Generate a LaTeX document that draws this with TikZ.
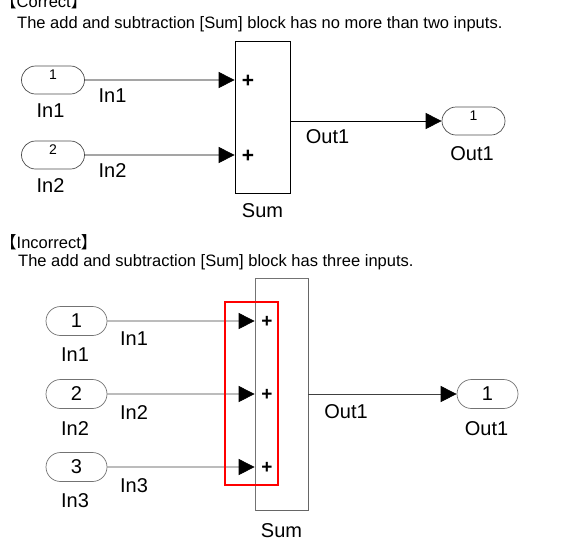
\documentclass[tikz,border=0pt]{standalone}
\usepackage{fontspec}
\setmainfont{Liberation Sans}
\newfontfamily\cjk{Noto Sans CJK JP}
\usetikzlibrary{shapes,arrows.meta,positioning}

\tikzset{
  port/.style={rounded rectangle, draw=black!70, line width=0.7pt, minimum width=65pt, minimum height=28pt, inner sep=1pt},
  portA/.style={port, font=\fontsize{14}{14}\selectfont, text depth=10pt},
  portB/.style={port, draw=black!55, minimum width=63pt, minimum height=29pt, font=\fontsize{20}{20}\selectfont},
  lbl/.style={anchor=base, inner sep=0pt, font=\fontsize{20}{20}\selectfont},
  note/.style={anchor=base west, inner sep=0pt, font=\fontsize{16.5}{18}\selectfont},
  sumblk/.style={draw, line width=0.7pt, inner sep=0pt},
  sig/.style={line width=0.7pt, -{Triangle[length=16pt,width=16pt,black]}},
  plus/.style={inner sep=0pt, font=\fontsize{21}{21}\selectfont\bfseries},
  plusB/.style={plus, font=\fontsize{19}{19}\selectfont\bfseries},
}

\begin{document}
\begin{tikzpicture}[x=1pt, y=-1pt]
    \useasboundingbox (0,0) rectangle (577,544);
    % Correct case
    \node[note] (head1) at (0,7.5) {{\cjk 【}Correct{\cjk 】}};
    \node[note] (txt1) at (17,28) {The add and subtraction [Sum] block has no more than two inputs.};
    \node[sumblk, minimum width=55pt, minimum height=152pt] (sumA) at (262.5,117) {};
    \draw[line width=1.4pt] ([yshift=-1pt]sumA.north east) -- (sumA.south east) -- ([xshift=1pt]sumA.south west);
    \node[portA] (in1) at (53,80) {1};
    \node[portA] (in2) at (53,155) {2};
    \node[portA] (outA) at (473.5,121) {1};
    \draw[sig] (in1) -- (in1 -| sumA.west);
    \draw[sig] (in2) -- (in2 -| sumA.west);
    \draw[sig] (sumA.east |- outA) -- (outA);
    \node[plus] (pa1) at (248,81) {+};
    \node[plus] (pa2) at (248,156) {+};
    \node[lbl] (in1lbl) at (50.5,117) {In1};
    \node[lbl] (in1sig) at (112.5,102) {In1};
    \node[lbl] (in2lbl) at (50.5,192) {In2};
    \node[lbl] (in2sig) at (112.5,177) {In2};
    \node[lbl] (sumAlbl) at (262.5,217) {Sum};
    \node[lbl] (outAlbl) at (472,160) {Out1};
    \node[lbl] (outAsig) at (327.5,143) {Out1};
    % Incorrect case
    \node[note] (head2) at (0,248) {{\cjk 【}Incorrect{\cjk 】}};
    \node[note] (txt2) at (18,266.5) {The add and subtraction [Sum] block has three inputs.};
    \node[sumblk, draw=black!55, minimum width=53pt, minimum height=232pt] (sumB) at (281.5,394) {};
    \draw[line width=1.2pt, black!60] ([yshift=-1pt]sumB.north east) -- (sumB.south east) -- ([xshift=1pt]sumB.south west);
    \node[portB] (inb1) at (76.5,321) {1};
    \node[portB] (inb2) at (76.5,394) {2};
    \node[portB] (inb3) at (76.5,467) {3};
    \node[portB] (outB) at (487.5,394) {1};
    \draw[sig, black!75] (inb1) -- (inb1 -| sumB.west);
    \draw[sig, black!75] (inb2) -- (inb2 -| sumB.west);
    \draw[sig, black!75] (inb3) -- (inb3 -| sumB.west);
    \draw[sig, black!75] (sumB.east |- outB) -- (outB);
    \node[plusB] (pb1) at (267,322) {+};
    \node[plusB] (pb2) at (267,395) {+};
    \node[plusB] (pb3) at (267,468) {+};
    \node[lbl] (inb1lbl) at (75,361.5) {In1};
    \node[lbl] (inb1sig) at (134,345) {In1};
    \node[lbl] (inb2lbl) at (75,435) {In2};
    \node[lbl] (inb2sig) at (134,419) {In2};
    \node[lbl] (inb3lbl) at (75,507) {In3};
    \node[lbl] (inb3sig) at (134,492) {In3};
    \node[lbl] (sumBlbl) at (281.5,537) {Sum};
    \node[lbl] (outBlbl) at (486.5,435) {Out1};
    \node[lbl] (outBsig) at (346,418) {Out1};
    % highlight
    \draw[red, line width=2.4pt] (225,302) rectangle (278,485);
\end{tikzpicture}
\end{document}
